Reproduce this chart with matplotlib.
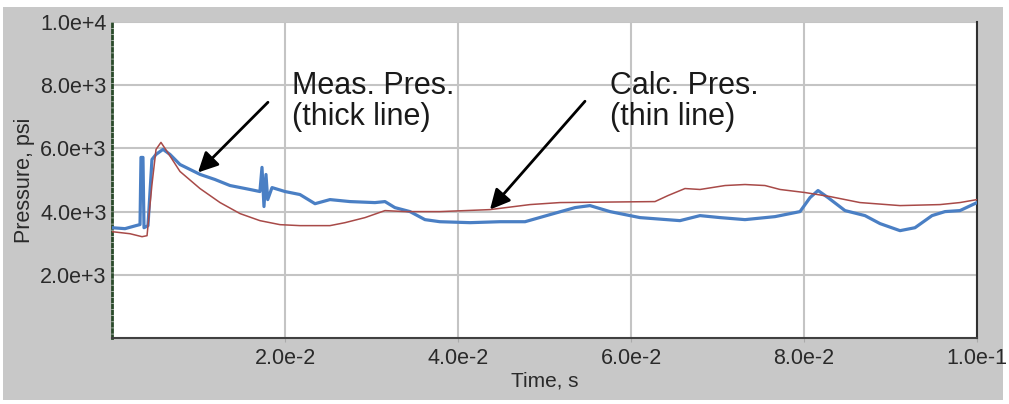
import matplotlib.pyplot as plt
from matplotlib.patches import Rectangle

# measured pressure (thick line)
t_meas = [0.0, 0.0015, 0.00277, 0.00324, 0.00335, 0.00358, 0.0037, 0.00416,
          0.00462, 0.00509, 0.0059, 0.0067, 0.00786, 0.0102, 0.0119, 0.01364,
          0.01595, 0.0171, 0.01734, 0.01757, 0.0178, 0.018, 0.0185, 0.02,
          0.02173, 0.02347, 0.0252, 0.02751, 0.0304, 0.03156, 0.0327, 0.03445,
          0.03618, 0.0379, 0.0414, 0.04485, 0.04775, 0.05064, 0.05353, 0.05526,
          0.05757, 0.06104, 0.06566, 0.06798, 0.0703, 0.07318, 0.07665, 0.07954,
          0.0807, 0.08162, 0.08277, 0.08474, 0.08705, 0.08879, 0.0911, 0.09283,
          0.0948, 0.0963, 0.09803, 0.1]
p_meas = [3490, 3460, 3556, 3590, 5714, 5714, 3490, 3556,
          5650, 5810, 5970, 5810, 5490, 5175, 5016, 4825,
          4700, 4635, 5400, 4160, 5175, 4380, 4760, 4635,
          4540, 4250, 4380, 4317, 4285, 4317, 4127, 4000,
          3746, 3680, 3650, 3680, 3680, 3905, 4127, 4190,
          4000, 3810, 3714, 3873, 3810, 3746, 3841, 4000,
          4444, 4667, 4444, 4032, 3873, 3620, 3397, 3490,
          3873, 4000, 4032, 4285]

# calculated pressure (thin line)
t_calc = [0.0, 0.00208, 0.00347, 0.00405, 0.00462, 0.00509, 0.00566, 0.00636,
          0.00786, 0.01017, 0.01249, 0.0148, 0.0171, 0.01942, 0.02173, 0.0252,
          0.02694, 0.02925, 0.03156, 0.03387, 0.0379, 0.0437, 0.04832, 0.05179,
          0.06277, 0.06428, 0.06624, 0.06798, 0.07087, 0.07318, 0.07549, 0.07723,
          0.08012, 0.083, 0.08647, 0.0911, 0.09572, 0.09803, 0.1]
p_calc = [3365, 3300, 3206, 3238, 4857, 5968, 6190, 5905,
          5270, 4730, 4286, 3937, 3714, 3587, 3556, 3556,
          3650, 3810, 4032, 4000, 4000, 4063, 4222, 4286,
          4317, 4508, 4730, 4700, 4825, 4857, 4825, 4700,
          4603, 4476, 4286, 4190, 4222, 4286, 4380]

x_ticks = [0.02, 0.04, 0.06, 0.08, 0.1]
x_labels = ["2.0e-2", "4.0e-2", "6.0e-2", "8.0e-2", "1.0e-1"]
y_ticks = [2000, 4000, 6000, 8000, 10000]
y_labels = ["2.0e+3", "4.0e+3", "6.0e+3", "8.0e+3", "1.0e+4"]

plt.rcParams['font.family'] = ['Liberation Sans', 'DejaVu Sans']

fig = plt.figure(figsize=(10.09, 4.04), dpi=100, facecolor='white')
fig.patches.append(Rectangle((3/1009, 4/404), 1000/1009, 393/404,
                             transform=fig.transFigure, facecolor='#c8c8c8',
                             edgecolor='none', zorder=-10))
ax = fig.add_axes([112/1009, 66/404, 865/1009, 316/404])
ax.set_facecolor('white')

ax.plot(t_meas, p_meas, color='#4a7fc4', lw=2.3, zorder=3)
ax.plot(t_calc, p_calc, color='#a84a48', lw=1.1, zorder=4)

ax.set_xlim(0, 0.1)
ax.set_ylim(0, 10000)
ax.set_xticks(x_ticks)
ax.set_xticklabels(x_labels)
ax.set_yticks(y_ticks)
ax.set_yticklabels(y_labels)
ax.grid(True, color='#c4c4c4', lw=1.5)
ax.tick_params(axis='both', labelsize=15.5, colors='#aaaaaa', labelcolor='#2a2a2a', length=3)
ax.tick_params(axis='y', length=0, pad=4)
ax.tick_params(axis='x', pad=4)

ax.spines['top'].set_visible(False)
ax.spines['left'].set_color('#2a4a2a')
ax.spines['left'].set_linestyle((0, (1, 1.2)))
ax.spines['left'].set_linewidth(2)
ax.spines['bottom'].set_color('#404040')
ax.spines['bottom'].set_linewidth(1.5)
ax.spines['right'].set_color('#303030')
ax.spines['right'].set_linewidth(1.5)

ax.set_xlabel("Time, s", fontsize=15, color='#2a2a2a', labelpad=2)
ax.set_ylabel("Pressure, psi", fontsize=15.5, color='#2a2a2a', labelpad=4)

arrow = dict(arrowstyle='-|>', color='black', lw=2, mutation_scale=30,
             shrinkA=0, shrinkB=0)
ax.annotate("", xy=(0.00994, 5238), xytext=(0.01803, 7460), arrowprops=arrow)
ax.annotate("", xy=(0.0437, 4063), xytext=(0.05468, 7492), arrowprops=arrow)
ax.text(0.0208, 8450, "Meas. Pres.\n(thick line)", fontsize=22, color='#1a1a1a',
        va='top', ha='left', linespacing=1.05)
ax.text(0.0576, 8450, "Calc. Pres.\n(thin line)", fontsize=22, color='#1a1a1a',
        va='top', ha='left', linespacing=1.05)

fig.savefig("out.png", dpi=100, facecolor=fig.get_facecolor())
